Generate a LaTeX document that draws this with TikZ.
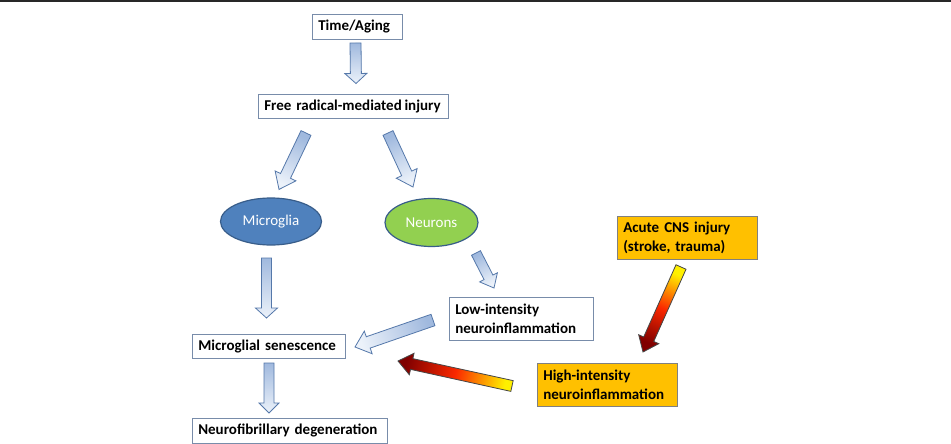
\documentclass[tikz,border=0pt]{standalone}
\usepackage{fontspec}
\setmainfont{Carlito}
\usetikzlibrary{calc,shapes.geometric}
\definecolor{boxline}{RGB}{120,140,170}
\definecolor{micfill}{RGB}{79,129,189}
\definecolor{micline}{RGB}{56,93,138}
\definecolor{neufill}{RGB}{146,208,80}
\definecolor{orangefill}{RGB}{255,192,0}
\definecolor{orangeline}{RGB}{128,128,128}
\definecolor{arrowline}{RGB}{85,120,170}
\definecolor{arrowtail}{RGB}{160,185,222}
\definecolor{arrowtip}{RGB}{236,242,250}
\definecolor{hotyellow}{RGB}{255,240,0}
\definecolor{hotred}{RGB}{250,40,0}
\definecolor{hotdark}{RGB}{128,0,0}
\definecolor{hotline}{RGB}{70,70,70}
\definecolor{toprule}{RGB}{40,40,40}
\makeatletter
\newdimen\ba@x \newdimen\ba@y
\newcommand\blockarrow[6][]{%
  \pgfpointdiff{\pgfpointanchor{#2}{center}}{\pgfpointanchor{#3}{center}}%
  \ba@x=\pgf@x \ba@y=\pgf@y
  \pgfmathsetmacro\ba@ang{atan2(\ba@y,\ba@x)}%
  \pgfmathsetmacro\ba@sang{\ba@ang-90}%
  \pgfmathsetmacro\ba@len{veclen(\ba@x,\ba@y)}%
  \begin{scope}[shift={(#2)},rotate=\ba@ang]
    \path[#1, shading angle=\ba@sang] (0pt,-#4pt) -- ({\ba@len pt-#6pt},-#4pt) -- ({\ba@len pt-#6pt},-#5pt)
      -- (\ba@len pt,0pt) -- ({\ba@len pt-#6pt},#5pt) -- ({\ba@len pt-#6pt},#4pt)
      -- (0pt,#4pt) -- cycle;
  \end{scope}}
\makeatother
\tikzset{
  box/.style={draw=boxline, line width=0.6pt, fill=white, anchor=north west,
    inner xsep=6pt, inner ysep=0pt, align=left,
    font=\fontsize{15}{18.3}\selectfont\bfseries},
  obox/.style={box, draw=orangeline, fill=orangefill},
  oval/.style={ellipse, inner sep=0pt, line width=1.2pt, draw=micline, text=white,
    font=\fontsize{15}{18.3}\selectfont},
  bluearrow/.style={draw=arrowline, line width=0.8pt, bottom color=arrowtail, top color=arrowtip},
  hotarrow/.style={draw=hotline, line width=0.8pt, bottom color=hotyellow, top color=hotdark, middle color=hotred}
}
\begin{document}
\begin{tikzpicture}[x=1pt,y=-1pt]
\useasboundingbox (0,0) rectangle (951,444);
\fill[white] (0,0) rectangle (951,444);
\fill[toprule] (0,0) rectangle (951,2);

\node[box, text width=78pt, minimum height=25pt] (time) at (312,14) {Time/Aging};
\node[box, text width=178pt, minimum height=24pt] (free) at (258,94) {\mbox{Free radical-mediated\hspace{0.18em}injury}};
\node[oval, fill=micfill, minimum width=101pt, minimum height=47pt] (mic) at (271,221.5) {Microglia};
\node[oval, fill=neufill, minimum width=93pt, minimum height=48pt] (neu) at (431.5,222.5) {Neurons};
\node[box, text width=132pt, minimum height=43pt] (low) at (449,297) {Low-intensity\\neuroinflammation};
\node[box, text width=141pt, minimum height=24pt] (sen) at (192,334) {\mbox{Microglial senescence}};
\node[box, text width=183pt, minimum height=25pt] (deg) at (192,418) {\mbox{Neurofibrillary degeneration}};
\node[obox, text width=128pt, minimum height=43pt] (acu) at (617,216) {Acute CNS injury\\(stroke, trauma)};
\node[obox, text width=128pt, minimum height=43pt] (hig) at (537,363) {High-intensity\\neuroinflammation};

\coordinate (a1s) at (355.5,43);  \coordinate (a1e) at (356,83.5);
\coordinate (a2s) at (306,133);   \coordinate (a2e) at (279,189.5);
\coordinate (a3s) at (388,133);   \coordinate (a3e) at (413,187);
\coordinate (a4s) at (266.5,258); \coordinate (a4e) at (266.5,318);
\coordinate (a5s) at (269,363);   \coordinate (a5e) at (269,413);
\coordinate (a6s) at (476,253);   \coordinate (a6e) at (494,288);
\coordinate (a7s) at (433,320);   \coordinate (a7e) at (355,347);
\coordinate (a8s) at (512,386);   \coordinate (a8e) at (398,361);
\coordinate (a9s) at (681,267);   \coordinate (a9e) at (643,352);

\blockarrow[bluearrow]{a1s}{a1e}{5.5}{11}{10}
\blockarrow[bluearrow]{a2s}{a2e}{5.5}{11.5}{15}
\blockarrow[bluearrow]{a3s}{a3e}{5.5}{11.5}{15}
\blockarrow[bluearrow]{a4s}{a4e}{5}{11}{10}
\blockarrow[bluearrow]{a5s}{a5e}{5}{10}{10}
\blockarrow[bluearrow]{a6s}{a6e}{5}{10}{12}
\blockarrow[bluearrow]{a7s}{a7e}{6}{12}{14}
\blockarrow[hotarrow]{a8s}{a8e}{5.5}{11}{14}
\blockarrow[hotarrow]{a9s}{a9e}{5.5}{11}{14}
\end{tikzpicture}
\end{document}
